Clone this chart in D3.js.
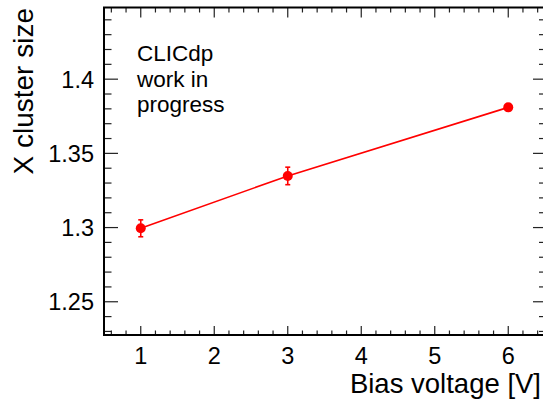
<!DOCTYPE html>
<html>
<head>
<meta charset="utf-8">
<script src="https://cdn.jsdelivr.net/npm/d3@7"></script>
<style>
  html, body { margin: 0; padding: 0; background: #fff; }
  svg { display: block; }
  text { font-family: "Liberation Sans", Arial, Helvetica, sans-serif; fill: #000; }
</style>
</head>
<body>
<script>
// Measured cluster size versus sensor bias voltage
const biasVoltage = [1, 3, 6];
const clusterSize = [1.2995, 1.3348, 1.3810];
const clusterErr  = [0.0057, 0.0059, 0.0020];

const xMajorTicks = [1, 2, 3, 4, 5, 6];
const yMajorTicks = [1.25, 1.3, 1.35, 1.4];
const yTickLabels = ["1.25", "1.3", "1.35", "1.4"];
const labelLines  = ["CLICdp", "work in", "progress"];

const W = 543, H = 401;
const frame = { left: 104, right: 545, top: 7.5, bottom: 335 };

const svg = d3.select("body").append("svg")
  .attr("width", W).attr("height", H);

const x = d3.scaleLinear().domain([0.5, 6.5]).range([frame.left, frame.right]);
const y = d3.scaleLinear().domain([1.2276, 1.4483]).range([frame.bottom, frame.top]);

// minor tick positions
const xMinor = d3.range(6, 65, 2).map(v => v / 10).filter(v => Math.abs(v - Math.round(v)) > 1e-6);
const yMinor = d3.range(123, 145).map(v => v / 100).filter(v => !yMajorTicks.some(m => Math.abs(m - v) < 1e-6));

// ticks on all four sides
function drawTicks(vals, side, len) {
  const g = svg.append("g").attr("stroke", "#222").attr("stroke-width", 1.2);
  vals.forEach(v => {
    if (side === "bottom") g.append("line").attr("x1", x(v)).attr("x2", x(v)).attr("y1", frame.bottom).attr("y2", frame.bottom - len);
    if (side === "top") g.append("line").attr("x1", x(v)).attr("x2", x(v)).attr("y1", frame.top).attr("y2", frame.top + len);
    if (side === "left") g.append("line").attr("y1", y(v)).attr("y2", y(v)).attr("x1", frame.left).attr("x2", frame.left + len);
    if (side === "right") g.append("line").attr("y1", y(v)).attr("y2", y(v)).attr("x1", frame.right).attr("x2", frame.right - len);
  });
}
drawTicks(xMajorTicks, "bottom", 9);
drawTicks(xMinor, "bottom", 4.5);
drawTicks(xMajorTicks, "top", 10);
drawTicks(xMinor, "top", 5);
drawTicks(yMajorTicks, "left", 14);
drawTicks(yMinor, "left", 7.5);
drawTicks(yMajorTicks, "right", 12);
drawTicks(yMinor, "right", 6);

// frame
svg.append("rect")
  .attr("x", frame.left).attr("y", frame.top)
  .attr("width", frame.right - frame.left).attr("height", frame.bottom - frame.top)
  .attr("fill", "none").attr("stroke", "#000").attr("stroke-width", 2);

// tick labels
svg.append("g").selectAll("text").data(xMajorTicks).join("text")
  .attr("x", d => x(d)).attr("y", 364)
  .attr("text-anchor", "middle").attr("font-size", 23.5)
  .text(d => d);

svg.append("g").selectAll("text").data(yMajorTicks).join("text")
  .attr("x", 94).attr("y", d => y(d) + 8.5)
  .attr("text-anchor", "end").attr("font-size", 23.5)
  .text((d, i) => yTickLabels[i]);

// axis titles
svg.append("text")
  .attr("x", 541).attr("y", 393)
  .attr("text-anchor", "end").attr("font-size", 27.5)
  .text("Bias voltage [V]");

svg.append("text")
  .attr("transform", "translate(33,8) rotate(-90)")
  .attr("text-anchor", "end").attr("font-size", 28)
  .text("X cluster size");

// annotation
svg.append("g").selectAll("text").data(labelLines).join("text")
  .attr("x", 137).attr("y", (d, i) => 61 + i * 25.5)
  .attr("font-size", 22.5)
  .text(d => d);

// data: line, error bars, markers
const pts = biasVoltage.map((v, i) => ({ v, s: clusterSize[i], e: clusterErr[i] }));

svg.append("path")
  .datum(pts)
  .attr("fill", "none").attr("stroke", "#ff0000").attr("stroke-width", 1.6)
  .attr("d", d3.line().x(d => x(d.v)).y(d => y(d.s)));

const eb = svg.append("g").attr("stroke", "#ff0000").attr("stroke-width", 1.6);
pts.forEach(d => {
  eb.append("line").attr("x1", x(d.v)).attr("x2", x(d.v)).attr("y1", y(d.s - d.e)).attr("y2", y(d.s + d.e));
  eb.append("line").attr("x1", x(d.v) - 2.5).attr("x2", x(d.v) + 2.5).attr("y1", y(d.s - d.e)).attr("y2", y(d.s - d.e));
  eb.append("line").attr("x1", x(d.v) - 2.5).attr("x2", x(d.v) + 2.5).attr("y1", y(d.s + d.e)).attr("y2", y(d.s + d.e));
});

svg.append("g").selectAll("circle").data(pts).join("circle")
  .attr("cx", d => x(d.v)).attr("cy", d => y(d.s)).attr("r", 5)
  .attr("fill", "#ff0000");
</script>
</body>
</html>
